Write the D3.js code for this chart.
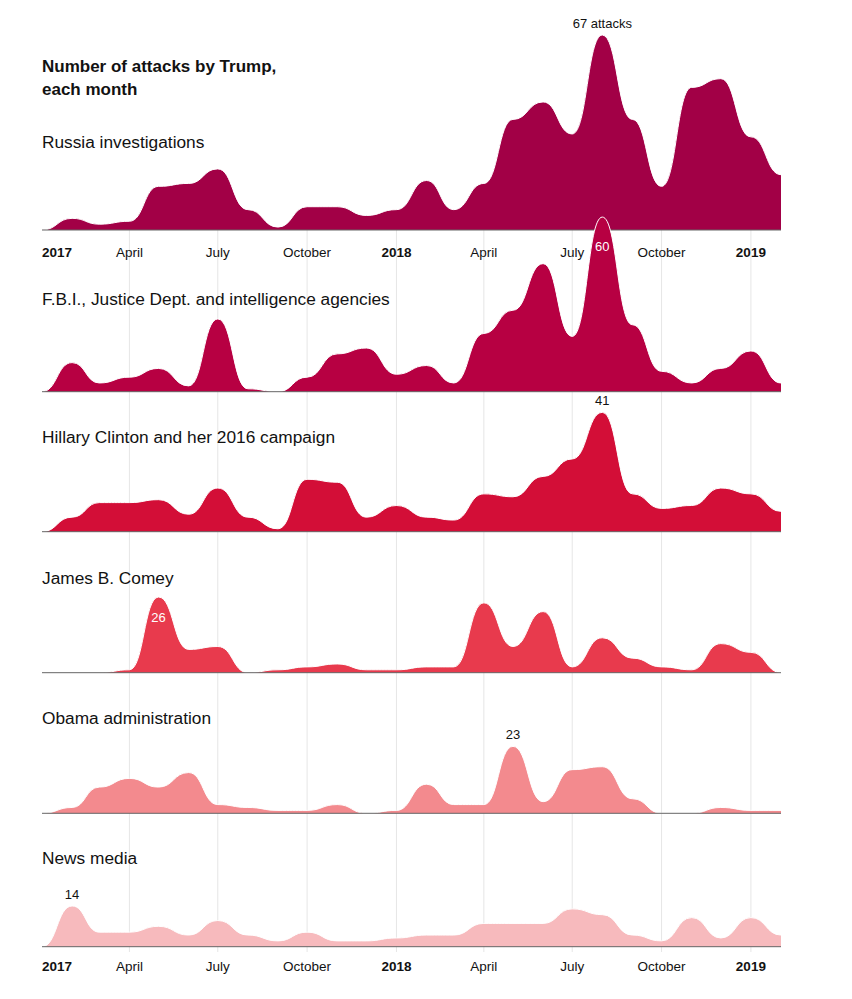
<!DOCTYPE html>
<html><head><meta charset="utf-8">
<script src="https://cdn.jsdelivr.net/npm/d3@7"></script>
<style>
body{margin:0;background:#fff;}
svg text{font-family:"Liberation Sans",Arial,Helvetica,sans-serif;}
</style></head><body>
<svg id="chart" width="852" height="999"></svg>
<script>
// ---- data (monthly counts, Jan 2017 – Feb 2019) ----
const months = ["2017-01","2017-02","2017-03","2017-04","2017-05","2017-06","2017-07","2017-08","2017-09","2017-10","2017-11","2017-12",
                "2018-01","2018-02","2018-03","2018-04","2018-05","2018-06","2018-07","2018-08","2018-09","2018-10","2018-11","2018-12",
                "2019-01","2019-02"];
const seriesNames = ["Russia investigations","F.B.I., Justice Dept. and intelligence agencies","Hillary Clinton and her 2016 campaign","James B. Comey","Obama administration","News media"];
const russia   = [0,4,2,3,15,16,21,7,1,8,8,5, 7,17,7,16,38,44,33,67,38,15,49,52, 32,19];
const fbi      = [0,10,3,5,8,2,25,1,0,5,13,15, 6,9,3,20,28,44,19,60,23,7,3,8, 14,3];
const hillary  = [0,5,10,10,11,6,15,5,1,18,17,5, 9,5,4,13,12,19,25,41,13,8,9,15, 13,7];
const comey    = [0,0,0,1,26,8,9,0,1,2,3,1, 1,2,2,24,9,21,2,12,5,2,1,10, 7,0];
const obama    = [0,2,9,12,9,14,3,2,1,1,3,0, 1,10,3,3,23,4,15,16,5,0,0,2, 1,1];
const news     = [0,14,5,5,7,4,9,4,2,5,2,2, 3,4,4,8,8,8,13,11,4,2,10,3, 10,4];
const seriesValues = [russia, fbi, hillary, comey, obama, news];
const peakLabels = ["67 attacks","60","41","26","23","14"];
const tickDates  = ["2017-01-01","2017-04-01","2017-07-01","2017-10-01","2018-01-01","2018-04-01","2018-07-01","2018-10-01","2019-01-01"];
const tickLabels = ["2017","April","July","October","2018","April","July","October","2019"];

// ---- styles / layout ----
const colors = ["#a20046","#b70042","#d30e37","#e83a4d","#f38a8e","#f7babd"];
const baselines = [230, 391.7, 531.7, 672.7, 813.3, 946.7];
const labelYs = [148, 305, 443, 584, 724, 864];
const peakInside = [false,true,false,true,false,false];
const peakInsideOffset = [0,34,0,25,0,0];

const parseMonth = d3.timeParse("%Y-%m");
const parseDay = d3.timeParse("%Y-%m-%d");
const dates = months.map(parseMonth);

const svg = d3.select("#chart");
const x = d3.scaleTime().domain([parseMonth("2017-01"), parseMonth("2019-02")]).range([42, 781]);
const h = d3.scaleLinear().domain([0, 67]).range([0, 195]);

// gridlines
const ticks = tickDates.map(parseDay);
svg.append("g").selectAll("line").data(ticks.slice(1)).join("line")
  .attr("x1", d => x(d)).attr("x2", d => x(d))
  .attr("y1", baselines[0]).attr("y2", 952)
  .attr("stroke", "#e6e6e6").attr("stroke-width", 1);

// title
const title = svg.append("text").attr("x", 42).attr("y", 72)
  .style("font-size", "17px").style("font-weight", "bold").attr("fill", "#121212");
title.append("tspan").attr("x", 42).text("Number of attacks by Trump,");
title.append("tspan").attr("x", 42).attr("dy", 22.5).text("each month");

function drawAxis(yBase) {
  const g = svg.append("g");
  g.selectAll("text").data(ticks).join("text")
    .attr("x", d => x(d))
    .attr("y", yBase)
    .attr("text-anchor", (d, i) => i === 0 ? "start" : "middle")
    .style("font-size", "13.5px")
    .style("font-weight", (d, i) => d.getMonth() === 0 ? "bold" : "normal")
    .attr("fill", "#121212")
    .text((d, i) => tickLabels[i]);
}

seriesValues.forEach((vals, si) => {
  const base = baselines[si];
  const data = vals.map((v, i) => ({date: dates[i], value: v}));
  const g = svg.append("g");
  const area = d3.area().curve(d3.curveBumpX)
    .x(d => x(d.date)).y0(base).y1(d => base - h(d.value));
  const line = d3.line().curve(d3.curveBumpX)
    .x(d => x(d.date)).y(d => base - h(d.value));
  g.append("path").datum(data).attr("d", area).attr("fill", colors[si]);
  g.append("path").datum(data).attr("d", line).attr("fill", "none")
    .attr("stroke", "#fff").attr("stroke-width", 1);
  g.append("line").attr("x1", x(dates[0])).attr("x2", x(dates[dates.length-1]))
    .attr("y1", base).attr("y2", base).attr("stroke", "#666").attr("stroke-width", 1);
  g.append("text").attr("x", 42).attr("y", labelYs[si])
    .style("font-size", "17.3px").attr("fill", "#121212").text(seriesNames[si]);
  // peak label
  const maxV = d3.max(vals);
  const peak = data[vals.indexOf(maxV)];
  g.append("text").attr("x", x(peak.date))
    .attr("y", peakInside[si] ? base - h(maxV) + peakInsideOffset[si] : base - h(maxV) - 7)
    .attr("text-anchor", "middle").style("font-size", "13px")
    .attr("fill", peakInside[si] ? "#fff" : "#121212").text(peakLabels[si]);
  if (si === 0) drawAxis(257);
});
drawAxis(971);
</script>
</body></html>
